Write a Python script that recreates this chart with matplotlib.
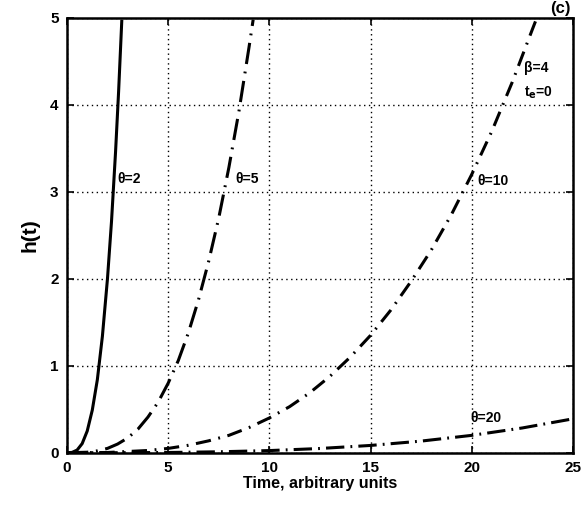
import matplotlib
matplotlib.use("Agg")
import matplotlib.pyplot as plt

plt.rcParams['font.family'] = ['Liberation Sans', 'DejaVu Sans']
plt.rcParams['font.weight'] = 'bold'

# hazard curves h(t), beta = 4, one list pair per theta
t_th2 = [0, 0.25, 0.5, 0.75, 1.0, 1.25, 1.5, 1.75, 2.0, 2.2, 2.4, 2.55, 2.71]
h_th2 = [0, 0.004, 0.031, 0.105, 0.25, 0.49, 0.84, 1.34, 2.0, 2.66, 3.46, 4.15, 4.98]

t_th5 = [0, 1, 1.5, 2, 2.5, 3, 3.5, 4, 4.5, 5, 5.5, 6, 6.5, 7, 7.5, 8, 8.5, 9, 9.2]
h_th5 = [0, 0.006, 0.022, 0.05, 0.1, 0.17, 0.27, 0.41, 0.58, 0.8, 1.06, 1.38,
         1.76, 2.2, 2.7, 3.28, 3.93, 4.67, 4.98]

t_th10 = [0, 2, 4, 5, 6, 7, 8, 9, 10, 11, 12, 13, 14, 15, 16, 17, 18, 19, 20,
          21, 22, 23, 23.2]
h_th10 = [0, 0.003, 0.026, 0.05, 0.086, 0.137, 0.2, 0.29, 0.4, 0.53, 0.69, 0.88,
          1.1, 1.35, 1.64, 1.97, 2.33, 2.74, 3.2, 3.7, 4.26, 4.87, 4.99]

t_th20 = [0, 2.5, 5, 7.5, 10, 12.5, 15, 17.5, 20, 22.5, 25]
h_th20 = [0, 0.0004, 0.003, 0.011, 0.025, 0.049, 0.084, 0.134, 0.2, 0.285, 0.39]

x_ticks = [0, 5, 10, 15, 20, 25]
y_ticks = [0, 1, 2, 3, 4, 5]

fig = plt.figure(figsize=(5.81, 5.07), dpi=100)
ax = fig.add_axes([0.1153, 0.107, 0.8707, 0.8575])

ax.plot(t_th2, h_th2, color='black', lw=2.2, solid_capstyle='butt')
ax.plot(t_th5, h_th5, color='black', lw=2.2, dashes=(7, 2.5, 0.6, 2.5))
ax.plot(t_th10, h_th10, color='black', lw=2.2, dashes=(5, 2.5, 0.6, 2.5))
ax.plot(t_th20, h_th20, color='black', lw=2.2, dashes=(6, 2, 0.6, 2))

ax.set_xlim(0, 25)
ax.set_ylim(0, 5)
ax.set_xticks(x_ticks)
ax.set_yticks(y_ticks)
ax.grid(True, color='black', linestyle=(0, (1, 2.5)), linewidth=1.0)
ax.tick_params(direction='in', top=True, right=True, length=5, width=1.2,
               labelsize=11, pad=6)
for lab in ax.get_xticklabels() + ax.get_yticklabels():
    lab.set_fontweight('bold')
for sp in ax.spines.values():
    sp.set_linewidth(1.8)

ax.set_xlabel('Time, arbitrary units', fontsize=11.5, fontweight='bold', labelpad=1)
ax.set_ylabel('h(t)', fontsize=15, fontweight='bold', labelpad=8)

ax.text(2.5, 3.15, 'θ=2', fontsize=10, fontweight='bold', va='center')
ax.text(8.3, 3.15, 'θ=5', fontsize=10, fontweight='bold', va='center')
ax.text(20.3, 3.13, 'θ=10', fontsize=10, fontweight='bold', va='center')
ax.text(19.95, 0.4, 'θ=20', fontsize=10, fontweight='bold', va='center')
ax.text(22.6, 4.42, 'β=4', fontsize=10, fontweight='bold', va='center')
ax.text(22.6, 4.14, 't$_\\mathbf{e}$=0', fontsize=10, fontweight='bold', va='center')

fig.text(0.965, 0.999, '(c)', fontsize=12, fontweight='bold', ha='center', va='top')

fig.savefig('out.png', dpi=100)
